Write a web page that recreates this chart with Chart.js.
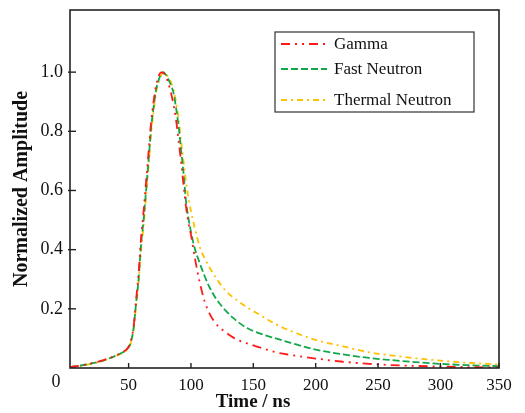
<!DOCTYPE html>
<html>
<head>
<meta charset="utf-8">
<script src="https://cdn.jsdelivr.net/npm/chart.js@4/dist/chart.umd.min.js"></script>
<style>
  body { margin: 0; background: #fff; }
</style>
</head>
<body>
<canvas id="pulsos" width="525" height="413"></canvas>
<script>
// tempo (ns) e amplitudes normalizadas
var tempoNs = [3, 10, 20, 30, 40, 45, 50, 52, 54, 56, 58, 60, 62, 64, 66, 68, 70, 72, 74, 76, 78, 80, 82, 84, 86, 88, 90, 92, 94, 96, 98, 100, 103, 107, 111, 115, 120, 128, 135, 145, 155, 168, 180, 200, 220, 243, 260, 280, 300, 320, 347];
var gamma = [0.003, 0.007, 0.016, 0.027, 0.043, 0.053, 0.072, 0.095, 0.14, 0.23, 0.32, 0.44, 0.53, 0.63, 0.73, 0.83, 0.9, 0.955, 0.985, 0.999, 0.997, 0.985, 0.96, 0.93, 0.89, 0.84, 0.77, 0.7, 0.62, 0.545, 0.49, 0.45, 0.375, 0.29, 0.225, 0.183, 0.15, 0.12, 0.1, 0.083, 0.07, 0.053, 0.044, 0.032, 0.022, 0.014, 0.01, 0.007, 0.005, 0.003, 0.002];
var neutronRapido = [0.003, 0.007, 0.015, 0.026, 0.042, 0.052, 0.07, 0.09, 0.135, 0.22, 0.3, 0.42, 0.5, 0.6, 0.7, 0.81, 0.88, 0.94, 0.972, 0.993, 1.0, 0.99, 0.975, 0.955, 0.93, 0.88, 0.82, 0.74, 0.66, 0.565, 0.505, 0.46, 0.405, 0.355, 0.31, 0.272, 0.235, 0.193, 0.165, 0.135, 0.117, 0.1, 0.085, 0.062, 0.047, 0.034, 0.027, 0.02, 0.014, 0.01, 0.006];
var neutronTermico = [0.003, 0.006, 0.014, 0.025, 0.041, 0.051, 0.068, 0.087, 0.13, 0.21, 0.29, 0.4, 0.48, 0.58, 0.68, 0.79, 0.865, 0.93, 0.965, 0.988, 0.999, 0.995, 0.98, 0.965, 0.94, 0.9, 0.845, 0.77, 0.7, 0.63, 0.575, 0.53, 0.475, 0.41, 0.37, 0.339, 0.305, 0.26, 0.235, 0.205, 0.18, 0.148, 0.125, 0.095, 0.075, 0.053, 0.043, 0.033, 0.025, 0.018, 0.012];

var nomesSeries = ['Gamma', 'Fast Neutron', 'Thermal Neutron'];
var ticksX = [50, 100, 150, 200, 250, 300, 347];
var rotulosX = ['50', '100', '150', '200', '250', '300', '350'];
var ticksY = [0.2, 0.4, 0.6, 0.8, 1.0];

var fonteSerif = '"Liberation Serif", "Times New Roman", serif';

function pares(ys) {
    return tempoNs.map(function (t, i) { return { x: t, y: ys[i] }; });
}

// moldura, ticks para dentro, titulos e legenda
var moldura = {
    id: 'moldura',
    afterDraw: function (chart) {
        var ctx = chart.ctx;
        var a = chart.chartArea;
        var sx = chart.scales.x, sy = chart.scales.y;
        ctx.save();
        ctx.strokeStyle = '#222';
        ctx.lineWidth = 1.6;
        ctx.setLineDash([]);
        ctx.strokeRect(a.left, a.top, a.right - a.left, a.bottom - a.top);

        ctx.lineWidth = 1.4;
        ticksX.forEach(function (v) {
            var px = sx.getPixelForValue(v);
            ctx.beginPath();
            ctx.moveTo(px, a.bottom);
            ctx.lineTo(px, a.bottom - 5);
            ctx.stroke();
        });
        ticksY.forEach(function (v) {
            var py = sy.getPixelForValue(v);
            ctx.beginPath();
            ctx.moveTo(a.left - 2, py);
            ctx.lineTo(a.left + 6, py);
            ctx.stroke();
        });

        ctx.fillStyle = '#111';
        ctx.font = '18px ' + fonteSerif;
        ctx.textAlign = 'center';
        ctx.textBaseline = 'middle';
        ctx.fillText('0', a.left - 14, a.bottom + 14);

        ctx.font = 'bold 19px ' + fonteSerif;
        ctx.fillText('Time / ns', 253, 402);
        ctx.save();
        ctx.translate(22, (a.top + a.bottom) / 2);
        ctx.rotate(-Math.PI / 2);
        ctx.font = 'bold 20px ' + fonteSerif;
        ctx.fillText('Normalized Amplitude', 0, 0);
        ctx.restore();

        // legenda
        var lx = 275, ly = 32, lw = 199, lh = 80;
        ctx.lineWidth = 1.2;
        ctx.strokeStyle = '#333';
        ctx.strokeRect(lx, ly, lw, lh);
        var linhasY = [44, 69, 100];
        ctx.font = '17px ' + fonteSerif;
        ctx.textAlign = 'left';
        chart.data.datasets.forEach(function (ds, i) {
            ctx.strokeStyle = ds.borderColor;
            ctx.lineWidth = ds.borderWidth;
            ctx.setLineDash(ds.borderDash);
            ctx.beginPath();
            ctx.moveTo(281, linhasY[i]);
            ctx.lineTo(327, linhasY[i]);
            ctx.stroke();
            ctx.setLineDash([]);
            ctx.fillText(ds.label, 334, linhasY[i] + 1);
        });
        ctx.restore();
    }
};

var ctx = document.getElementById('pulsos').getContext('2d');
var graficoPulsos = new Chart(ctx, {
    type: 'line',
    data: {
        datasets: [{
            label: nomesSeries[0],
            data: pares(gamma),
            borderColor: '#ff1a1a',
            borderWidth: 1.8,
            borderDash: [9, 5, 2, 5, 2, 5]
        }, {
            label: nomesSeries[1],
            data: pares(neutronRapido),
            borderColor: '#12a84a',
            borderWidth: 1.8,
            borderDash: [7, 3]
        }, {
            label: nomesSeries[2],
            data: pares(neutronTermico),
            borderColor: '#ffc000',
            borderWidth: 1.8,
            borderDash: [6, 4, 2, 4]
        }]
    },
    options: {
        responsive: false,
        animation: false,
        cubicInterpolationMode: 'monotone',
        elements: { point: { radius: 0 } },
        layout: { padding: { left: 0, right: 26, top: 10, bottom: 0 } },
        plugins: { legend: { display: false }, tooltip: { enabled: false } },
        scales: {
            x: {
                type: 'linear',
                min: 3,
                max: 347,
                grid: { display: false, drawTicks: false },
                border: { display: false },
                afterBuildTicks: function (s) { s.ticks = ticksX.map(function (v) { return { value: v }; }); },
                afterFit: function (s) { s.height = 45; s.paddingLeft = 0; s.paddingRight = 0; },
                ticks: {
                    padding: 7,
                    color: '#111',
                    font: { family: fonteSerif, size: 17 },
                    maxRotation: 0,
                    autoSkip: false,
                    callback: function (v, i) { return rotulosX[i]; }
                }
            },
            y: {
                min: 0,
                max: 1.21,
                grid: { display: false, drawTicks: false },
                border: { display: false },
                afterBuildTicks: function (s) { s.ticks = ticksY.map(function (v) { return { value: v }; }); },
                afterFit: function (s) { s.width = 70; s.paddingTop = 0; s.paddingBottom = 0; },
                ticks: {
                    padding: 7,
                    color: '#111',
                    font: { family: fonteSerif, size: 18 },
                    callback: function (v) { return v.toFixed(1); }
                }
            }
        }
    },
    plugins: [moldura]
});
</script>
</body>
</html>
